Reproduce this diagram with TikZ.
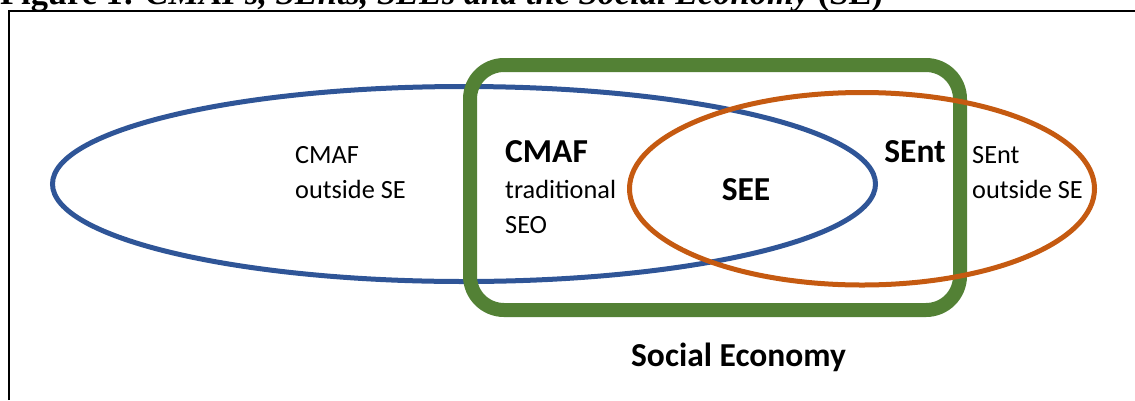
\documentclass[tikz,border=0pt]{standalone}
\usepackage{fontspec}
\setmainfont{Carlito}
\newfontfamily\capfont{Liberation Serif}
\definecolor{seblue}{HTML}{2F5597}
\definecolor{seorange}{HTML}{C55A11}
\definecolor{segreen}{HTML}{538135}
\begin{document}
\begin{tikzpicture}[x=1pt,y=-1pt,
  reg/.style={inner sep=0pt,font=\fontsize{26.3}{26.3}\selectfont},
  bld/.style={inner sep=0pt,font=\fontsize{33.5}{33.5}\selectfont\bfseries},
  frame/.style={draw=black,line width=2pt},
  blueset/.style={draw=seblue,line width=5pt},
  orangeset/.style={draw=seorange,line width=5pt},
  greenset/.style={draw=segreen,line width=14pt,rounded corners=34pt}]
\useasboundingbox (0,0) rectangle (1135,400);
% caption (cut off at the top, as in the reference)
\node[inner sep=0pt,anchor=base west,font=\capfont\fontsize{34.4}{34.4}\selectfont] (cap) at (0,4)
  {\textbf{Figure 1:} \textbf{\textit{CMAFs, SEnts, SEEs and the Social Economy}} \textbf{(SE)}};
% frame
\draw[frame] (9,400) -- (9,10.5) -- (1135,10.5);
% sets
\draw[blueset] (464,184) ellipse [x radius=411.5, y radius=97.5];
\draw[greenset] (470,65) rectangle (960,310);
\draw[orangeset] (862,188.75) ellipse [x radius=232.5, y radius=96.25];
% labels
\node[reg,anchor=base west] (c1) at (295,163) {CMAF};
\node[reg,anchor=base west] (c2) at (295,198) {outside SE};
\node[bld,anchor=base west] (m1) at (505,162) {CMAF};
\node[reg,anchor=base west] (m2) at (505,198) {traditional};
\node[reg,anchor=base west] (m3) at (505,233) {SEO};
\node[bld,anchor=base] (see) at (746,200) {SEE};
\node[bld,anchor=base east] (s1) at (946,162) {SEnt};
\node[reg,anchor=base west] (r1) at (972,163) {SEnt};
\node[reg,anchor=base west] (r2) at (972,198) {outside SE};
\node[bld,anchor=base] (se) at (738.5,366) {Social Economy};
\end{tikzpicture}
\end{document}
